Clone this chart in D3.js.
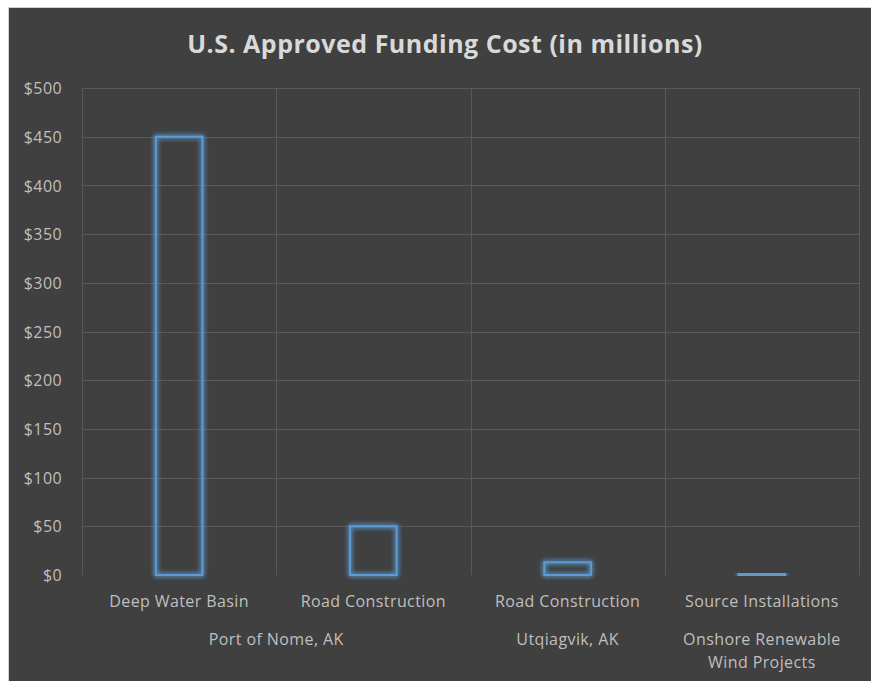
<!DOCTYPE html>
<html>
<head>
<meta charset="utf-8">
<script src="https://cdn.jsdelivr.net/npm/d3@7"></script>
<style>
  html, body { margin: 0; padding: 0; background: #ffffff; }
  svg { display: block; }
</style>
</head>
<body>
<svg id="chart" width="871" height="681"></svg>
<script>
// Funding items (lower axis level), their group labels, and approved costs in $ millions
const categories = ["Deep Water Basin", "Road Construction", "Road Construction", "Source Installations"];
const values = [450, 50, 13, 1];
const groups = [
  { label: ["Port of Nome, AK"], from: 0, to: 1 },
  { label: ["Utqiagvik, AK"], from: 2, to: 2 },
  { label: ["Onshore Renewable", "Wind Projects"], from: 3, to: 3 }
];
const yTicks = [0, 50, 100, 150, 200, 250, 300, 350, 400, 450, 500];
const title = "U.S. Approved Funding Cost (in millions)";

const W = 871, H = 681;
const svg = d3.select("#chart");
const font = "'Segoe UI', 'Open Sans', 'Noto Sans', sans-serif";
const labelSize = 16, labelSpacing = 0.4;

// glow for the bar outlines
const defs = svg.append("defs");
const glow = defs.append("filter").attr("id", "glow")
  .attr("x", "-50%").attr("y", "-50%").attr("width", "200%").attr("height", "200%");
glow.append("feGaussianBlur").attr("in", "SourceGraphic").attr("stdDeviation", 2.6).attr("result", "blur");
const merge = glow.append("feMerge");
merge.append("feMergeNode").attr("in", "blur");
merge.append("feMergeNode").attr("in", "blur");
merge.append("feMergeNode").attr("in", "SourceGraphic");

// chart card
svg.append("rect").attr("x", 8.5).attr("y", 7.5).attr("width", W).attr("height", H)
  .attr("fill", "#404040").attr("stroke", "#d0d0d0").attr("stroke-width", 1);

const plot = { left: 82, right: 859, top: 88, bottom: 575 };

const x = d3.scaleBand()
  .domain(d3.range(categories.length))
  .range([plot.left, plot.right])
  .paddingInner(0.76)
  .paddingOuter(0.38);
const step = x.step();
const bandStart = i => plot.left + i * step;

const y = d3.scaleLinear().domain([0, 500]).range([plot.bottom, plot.top]);

// horizontal gridlines
svg.append("g").selectAll("line").data(yTicks.filter(d => d > 0)).join("line")
  .attr("x1", plot.left).attr("x2", plot.right)
  .attr("y1", d => Math.round(y(d)) + 0.5).attr("y2", d => Math.round(y(d)) + 0.5)
  .attr("stroke", "#595959").attr("stroke-width", 1);

// vertical category separators
svg.append("g").selectAll("line").data(d3.range(categories.length + 1)).join("line")
  .attr("x1", i => Math.round(bandStart(i)) + 0.5).attr("x2", i => Math.round(bandStart(i)) + 0.5)
  .attr("y1", plot.top).attr("y2", plot.bottom)
  .attr("stroke", "#595959").attr("stroke-width", 1);

// y axis labels
const yAxis = d3.axisLeft(y).tickValues(yTicks).tickFormat(d => "$" + d).tickSize(0).tickPadding(0);
const gy = svg.append("g").attr("transform", `translate(62,0)`).call(yAxis);
gy.select(".domain").remove();
gy.selectAll("text")
  .attr("fill", "#bfbfbf").attr("font-family", font).attr("font-size", labelSize)
  .attr("letter-spacing", labelSpacing)
  .attr("dy", "0.35em");

// bars: outlined, unfilled, glowing
svg.append("g").selectAll("rect").data(values).join("rect")
  .attr("x", (d, i) => x(i))
  .attr("width", x.bandwidth())
  .attr("y", d => y(d))
  .attr("height", d => Math.max(0.5, y(0) - y(d)))
  .attr("fill", "none")
  .attr("stroke", "#5b9bd5")
  .attr("stroke-width", 2)
  .attr("filter", "url(#glow)");

// lower axis level: item names
svg.append("g").selectAll("text").data(categories).join("text")
  .attr("x", (d, i) => x(i) + x.bandwidth() / 2)
  .attr("y", 601)
  .attr("dy", "0.35em")
  .attr("text-anchor", "middle")
  .attr("fill", "#bfbfbf").attr("font-family", font).attr("font-size", labelSize)
  .attr("letter-spacing", labelSpacing)
  .text(d => d);

// upper axis level: locations / programs
const gGroups = svg.append("g");
groups.forEach(g => {
  const cx = (bandStart(g.from) + bandStart(g.to + 1)) / 2;
  g.label.forEach((line, k) => {
    gGroups.append("text")
      .attr("x", cx).attr("y", 639 + k * 23).attr("dy", "0.35em")
      .attr("text-anchor", "middle")
      .attr("fill", "#bfbfbf").attr("font-family", font).attr("font-size", labelSize)
      .attr("letter-spacing", labelSpacing)
      .text(line);
  });
});

// title
svg.append("text")
  .attr("x", 445).attr("y", 44).attr("dy", "0.35em")
  .attr("text-anchor", "middle")
  .attr("fill", "#d9d9d9").attr("font-family", font).attr("font-size", 25).attr("font-weight", "bold")
  .attr("letter-spacing", 0.5)
  .text(title);
</script>
</body>
</html>
